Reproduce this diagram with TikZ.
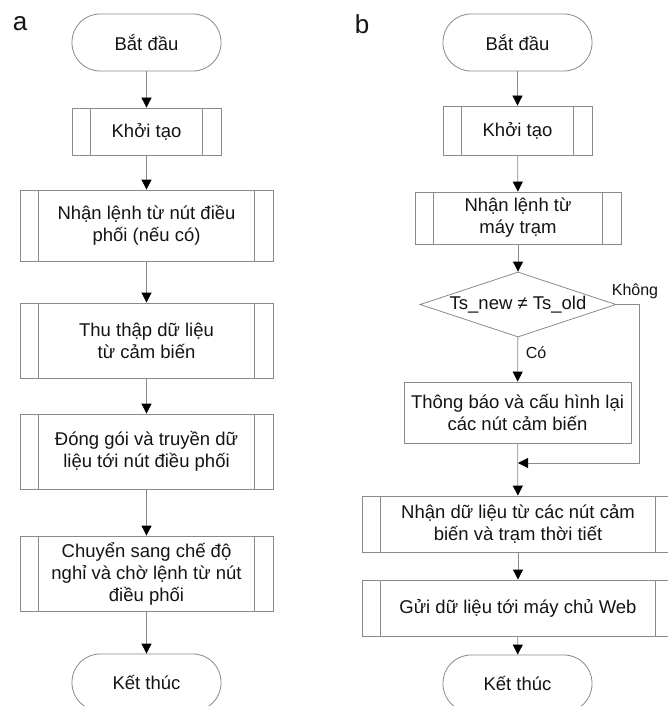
\documentclass[tikz,border=0pt]{standalone}
\usepackage{fontspec}
\setmainfont{Liberation Sans}
\usetikzlibrary{shapes.geometric,arrows.meta}
\definecolor{linecol}{HTML}{8A8A8A}
\definecolor{txtcol}{HTML}{141414}
\tikzset{
  base/.style={draw=linecol, line width=0.8pt, text=txtcol, align=center, inner sep=0pt,
    font=\fontsize{18.5}{22}\selectfont},
  term/.style={base, rounded corners=28pt, minimum width=149pt, minimum height=57pt},
  box/.style={base, rectangle},
  subr/.style={box, path picture={
    \draw[linecol, line width=0.8pt] ([xshift=18.5pt]path picture bounding box.south west) -- ([xshift=18.5pt]path picture bounding box.north west);
    \draw[linecol, line width=0.8pt] ([xshift=-18.5pt]path picture bounding box.south east) -- ([xshift=-18.5pt]path picture bounding box.north east);}},
  dec/.style={base, diamond, aspect=3.2, minimum width=196pt, minimum height=65pt},
  conn/.style={draw=linecol, line width=0.8pt, -{Triangle[width=10pt,length=10pt,fill=black,color=black]}},
  lbl/.style={text=txtcol, inner sep=0pt, font=\fontsize{16}{19}\selectfont},
  panel/.style={text=txtcol, inner sep=0pt, font=\fontsize{26}{30}\selectfont}
}
\begin{document}
\begin{tikzpicture}[x=1pt,y=-1pt]
\useasboundingbox (0,0) rectangle (668,706);
\clip (0,0) rectangle (668,706);
\fill[white] (0,0) rectangle (668,706);

% panel a
\node[panel] (la) at (20,24) {a};
\node[term] (a1) at (146.5,42.5) {Bắt đầu};
\node[subr, minimum width=149pt, minimum height=47pt] (a2) at (146.5,131.5) {Khởi tạo};
\node[subr, minimum width=253pt, minimum height=71pt] (a3) at (146.5,225.5) {Nhận lệnh từ nút điều\\phối (nếu có)};
\node[subr, minimum width=253pt, minimum height=75pt] (a4) at (146.5,340.5) {Thu thập dữ liệu\\từ cảm biến};
\node[subr, minimum width=253pt, minimum height=75pt] (a5) at (146.5,451.5) {Đóng gói và truyền dữ\\liệu tới nút điều phối};
\node[subr, minimum width=253pt, minimum height=75pt] (a6) at (146.5,573.5) {Chuyển sang chế độ\\nghỉ và chờ lệnh từ nút\\điều phối};
\node[term] (a7) at (146.5,682.5) {Kết thúc};
\draw[conn] (a1) -- (a2);
\draw[conn] (a2) -- (a3);
\draw[conn] (a3) -- (a4);
\draw[conn] (a4) -- (a5);
\draw[conn] (a5) -- (a6);
\draw[conn] (a6) -- (a7);

% panel b
\node[panel] (lb) at (362,24) {b};
\node[term] (b1) at (517.5,42.5) {Bắt đầu};
\node[subr, minimum width=149pt, minimum height=49pt] (b2) at (517.5,130.5) {Khởi tạo};
\node[subr, minimum width=206pt, minimum height=52pt] (b3) at (518,218) {Nhận lệnh từ\\máy trạm};
\node[dec] (b4) at (518,304.5) {Ts\_new ≠ Ts\_old};
\node[box, minimum width=227pt, minimum height=61pt] (b5) at (517.5,412.5) {Thông báo và cấu hình lại\\các nút cảm biến};
\node[subr, minimum width=312pt, minimum height=56pt] (b6) at (518,524) {Nhận dữ liệu từ các nút cảm\\biến và trạm thời tiết};
\node[subr, minimum width=312pt, minimum height=56pt] (b7) at (518,608) {Gửi dữ liệu tới máy chủ Web};
\node[term] (b8) at (517.5,683.5) {Kết thúc};
\coordinate (k1) at (639,304.5);
\coordinate (k2) at (639,463);
\coordinate (m) at (518,463);
\node[lbl] (tk) at (635,291) {Không};
\node[lbl] (tc) at (536,353) {Có};
\draw[conn] (b1) -- (b2);
\draw[conn] (b2) -- (b3);
\draw[conn] (b3) -- (b4);
\draw[conn] (b4) -- (b5);
\draw[conn] (b5) -- (b6);
\draw[conn] (b4.east) -- (k1) -- (k2) -- (m);
\draw[conn] (b6) -- (b7);
\draw[conn] (b7) -- (b8);
\end{tikzpicture}
\end{document}
